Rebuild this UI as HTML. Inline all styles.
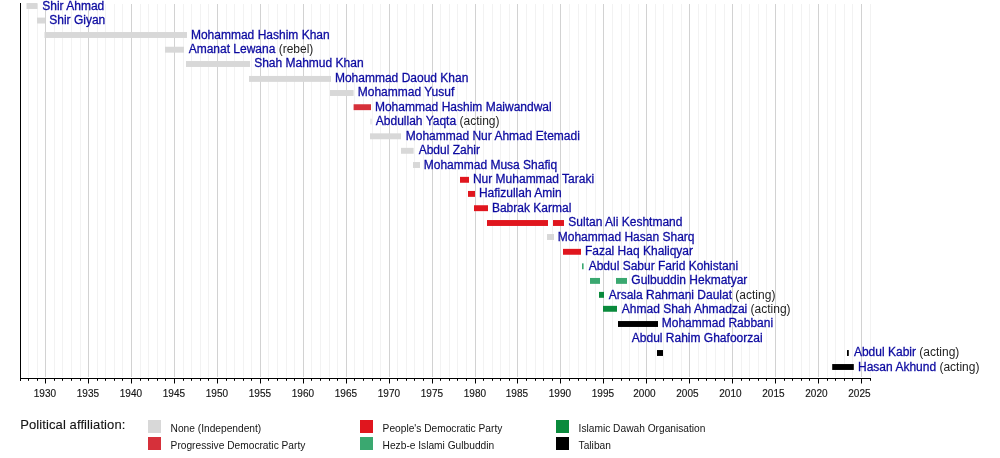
<!DOCTYPE html>
<html><head><meta charset="utf-8"><style>
html,body{margin:0;padding:0;background:#fff;width:1000px;height:458px;overflow:hidden}
svg{display:block;will-change:transform}
text{font-family:"Liberation Sans",sans-serif;font-variant-ligatures:none}
.l{font-size:12px;fill:#0c0aa0;stroke:#0c0aa0;stroke-width:0.28px}
.y{font-size:10px;fill:#151515;stroke:#151515;stroke-width:0.15px}
.lg{font-size:13px;fill:#151515;stroke:#151515;stroke-width:0.12px;letter-spacing:0.1px}
.lt{font-size:10.2px;fill:#151515}
.ac{font-size:12px;fill:#1e1e1e;stroke:none}
</style></head><body>
<svg width="1000" height="458" viewBox="0 0 1000 458">
<rect x="28" y="4" width="1" height="373" fill="#f2f2f2"/>
<rect x="37" y="4" width="1" height="373" fill="#f2f2f2"/>
<rect x="45" y="4" width="1" height="373" fill="#d2d2d2"/>
<rect x="54" y="4" width="1" height="373" fill="#f2f2f2"/>
<rect x="62" y="4" width="1" height="373" fill="#f2f2f2"/>
<rect x="71" y="4" width="1" height="373" fill="#f2f2f2"/>
<rect x="80" y="4" width="1" height="373" fill="#f2f2f2"/>
<rect x="88" y="4" width="1" height="373" fill="#d2d2d2"/>
<rect x="97" y="4" width="1" height="373" fill="#f2f2f2"/>
<rect x="105" y="4" width="1" height="373" fill="#f2f2f2"/>
<rect x="114" y="4" width="1" height="373" fill="#f2f2f2"/>
<rect x="122" y="4" width="1" height="373" fill="#f2f2f2"/>
<rect x="131" y="4" width="1" height="373" fill="#d2d2d2"/>
<rect x="140" y="4" width="1" height="373" fill="#f2f2f2"/>
<rect x="148" y="4" width="1" height="373" fill="#f2f2f2"/>
<rect x="157" y="4" width="1" height="373" fill="#f2f2f2"/>
<rect x="165" y="4" width="1" height="373" fill="#f2f2f2"/>
<rect x="174" y="4" width="1" height="373" fill="#d2d2d2"/>
<rect x="183" y="4" width="1" height="373" fill="#f2f2f2"/>
<rect x="191" y="4" width="1" height="373" fill="#f2f2f2"/>
<rect x="200" y="4" width="1" height="373" fill="#f2f2f2"/>
<rect x="208" y="4" width="1" height="373" fill="#f2f2f2"/>
<rect x="217" y="4" width="1" height="373" fill="#d2d2d2"/>
<rect x="226" y="4" width="1" height="373" fill="#f2f2f2"/>
<rect x="234" y="4" width="1" height="373" fill="#f2f2f2"/>
<rect x="243" y="4" width="1" height="373" fill="#f2f2f2"/>
<rect x="251" y="4" width="1" height="373" fill="#f2f2f2"/>
<rect x="260" y="4" width="1" height="373" fill="#d2d2d2"/>
<rect x="268" y="4" width="1" height="373" fill="#f2f2f2"/>
<rect x="277" y="4" width="1" height="373" fill="#f2f2f2"/>
<rect x="286" y="4" width="1" height="373" fill="#f2f2f2"/>
<rect x="294" y="4" width="1" height="373" fill="#f2f2f2"/>
<rect x="303" y="4" width="1" height="373" fill="#d2d2d2"/>
<rect x="311" y="4" width="1" height="373" fill="#f2f2f2"/>
<rect x="320" y="4" width="1" height="373" fill="#f2f2f2"/>
<rect x="329" y="4" width="1" height="373" fill="#f2f2f2"/>
<rect x="337" y="4" width="1" height="373" fill="#f2f2f2"/>
<rect x="346" y="4" width="1" height="373" fill="#d2d2d2"/>
<rect x="354" y="4" width="1" height="373" fill="#f2f2f2"/>
<rect x="363" y="4" width="1" height="373" fill="#f2f2f2"/>
<rect x="372" y="4" width="1" height="373" fill="#f2f2f2"/>
<rect x="380" y="4" width="1" height="373" fill="#f2f2f2"/>
<rect x="389" y="4" width="1" height="373" fill="#d2d2d2"/>
<rect x="397" y="4" width="1" height="373" fill="#f2f2f2"/>
<rect x="406" y="4" width="1" height="373" fill="#f2f2f2"/>
<rect x="414" y="4" width="1" height="373" fill="#f2f2f2"/>
<rect x="423" y="4" width="1" height="373" fill="#f2f2f2"/>
<rect x="432" y="4" width="1" height="373" fill="#d2d2d2"/>
<rect x="440" y="4" width="1" height="373" fill="#f2f2f2"/>
<rect x="449" y="4" width="1" height="373" fill="#f2f2f2"/>
<rect x="457" y="4" width="1" height="373" fill="#f2f2f2"/>
<rect x="466" y="4" width="1" height="373" fill="#f2f2f2"/>
<rect x="475" y="4" width="1" height="373" fill="#d2d2d2"/>
<rect x="483" y="4" width="1" height="373" fill="#f2f2f2"/>
<rect x="492" y="4" width="1" height="373" fill="#f2f2f2"/>
<rect x="500" y="4" width="1" height="373" fill="#f2f2f2"/>
<rect x="509" y="4" width="1" height="373" fill="#f2f2f2"/>
<rect x="517" y="4" width="1" height="373" fill="#d2d2d2"/>
<rect x="526" y="4" width="1" height="373" fill="#f2f2f2"/>
<rect x="535" y="4" width="1" height="373" fill="#f2f2f2"/>
<rect x="543" y="4" width="1" height="373" fill="#f2f2f2"/>
<rect x="552" y="4" width="1" height="373" fill="#f2f2f2"/>
<rect x="560" y="4" width="1" height="373" fill="#d2d2d2"/>
<rect x="569" y="4" width="1" height="373" fill="#f2f2f2"/>
<rect x="578" y="4" width="1" height="373" fill="#f2f2f2"/>
<rect x="586" y="4" width="1" height="373" fill="#f2f2f2"/>
<rect x="595" y="4" width="1" height="373" fill="#f2f2f2"/>
<rect x="603" y="4" width="1" height="373" fill="#d2d2d2"/>
<rect x="612" y="4" width="1" height="373" fill="#f2f2f2"/>
<rect x="621" y="4" width="1" height="373" fill="#f2f2f2"/>
<rect x="629" y="4" width="1" height="373" fill="#f2f2f2"/>
<rect x="638" y="4" width="1" height="373" fill="#f2f2f2"/>
<rect x="646" y="4" width="1" height="373" fill="#d2d2d2"/>
<rect x="655" y="4" width="1" height="373" fill="#f2f2f2"/>
<rect x="663" y="4" width="1" height="373" fill="#f2f2f2"/>
<rect x="672" y="4" width="1" height="373" fill="#f2f2f2"/>
<rect x="681" y="4" width="1" height="373" fill="#f2f2f2"/>
<rect x="689" y="4" width="1" height="373" fill="#d2d2d2"/>
<rect x="698" y="4" width="1" height="373" fill="#f2f2f2"/>
<rect x="706" y="4" width="1" height="373" fill="#f2f2f2"/>
<rect x="715" y="4" width="1" height="373" fill="#f2f2f2"/>
<rect x="724" y="4" width="1" height="373" fill="#f2f2f2"/>
<rect x="732" y="4" width="1" height="373" fill="#d2d2d2"/>
<rect x="741" y="4" width="1" height="373" fill="#f2f2f2"/>
<rect x="749" y="4" width="1" height="373" fill="#f2f2f2"/>
<rect x="758" y="4" width="1" height="373" fill="#f2f2f2"/>
<rect x="766" y="4" width="1" height="373" fill="#f2f2f2"/>
<rect x="775" y="4" width="1" height="373" fill="#d2d2d2"/>
<rect x="784" y="4" width="1" height="373" fill="#f2f2f2"/>
<rect x="792" y="4" width="1" height="373" fill="#f2f2f2"/>
<rect x="801" y="4" width="1" height="373" fill="#f2f2f2"/>
<rect x="809" y="4" width="1" height="373" fill="#f2f2f2"/>
<rect x="818" y="4" width="1" height="373" fill="#d2d2d2"/>
<rect x="827" y="4" width="1" height="373" fill="#f2f2f2"/>
<rect x="835" y="4" width="1" height="373" fill="#f2f2f2"/>
<rect x="844" y="4" width="1" height="373" fill="#f2f2f2"/>
<rect x="852" y="4" width="1" height="373" fill="#f2f2f2"/>
<rect x="861" y="4" width="1" height="373" fill="#d2d2d2"/>
<rect x="870" y="4" width="1" height="373" fill="#f2f2f2"/>
<rect x="26.5" y="3.05" width="11.00" height="5.9" fill="#d8d8d8"/>
<text x="42.26" y="9.70" class="l">Shir Ahmad</text>
<rect x="37" y="17.60" width="8.00" height="5.9" fill="#d8d8d8"/>
<text x="49.26" y="24.14" class="l">Shir Giyan</text>
<rect x="44.5" y="32.05" width="142.50" height="5.9" fill="#d8d8d8"/>
<text x="190.94" y="38.58" class="l">Mohammad Hashim Khan</text>
<rect x="165" y="46.75" width="19.00" height="5.9" fill="#d8d8d8"/>
<text x="188.64" y="53.02" class="l">Amanat Lewana<tspan class="ac"> (rebel)</tspan></text>
<rect x="186" y="61.05" width="64.00" height="5.9" fill="#d8d8d8"/>
<text x="254.16" y="67.46" class="l">Shah Mahmud Khan</text>
<rect x="249" y="75.95" width="82.00" height="5.9" fill="#d8d8d8"/>
<text x="334.94" y="81.90" class="l">Mohammad Daoud Khan</text>
<rect x="330" y="90.05" width="23.60" height="5.9" fill="#d8d8d8"/>
<text x="357.74" y="96.34" class="l">Mohammad Yusuf</text>
<rect x="353.6" y="104.25" width="17.40" height="5.9" fill="#d6303a"/>
<text x="374.94" y="110.78" class="l">Mohammad Hashim Maiwandwal</text>
<rect x="370.5" y="118.57" width="1.00" height="5.9" fill="#d8d8d8"/>
<text x="375.84" y="125.22" class="l">Abdullah Yaqta<tspan class="ac"> (acting)</tspan></text>
<rect x="370" y="133.35" width="31.00" height="5.9" fill="#d8d8d8"/>
<text x="405.74" y="139.66" class="l">Mohammad Nur Ahmad Etemadi</text>
<rect x="401" y="147.85" width="12.60" height="5.9" fill="#d8d8d8"/>
<text x="418.64" y="154.10" class="l">Abdul Zahir</text>
<rect x="413" y="162.05" width="7.00" height="5.9" fill="#d8d8d8"/>
<text x="423.74" y="168.54" class="l">Mohammad Musa Shafiq</text>
<rect x="460" y="176.85" width="9.00" height="5.9" fill="#e0161e"/>
<text x="472.94" y="182.98" class="l">Nur Muhammad Taraki</text>
<rect x="468" y="190.95" width="7.00" height="5.9" fill="#e0161e"/>
<text x="478.94" y="197.42" class="l">Hafizullah Amin</text>
<rect x="474" y="205.25" width="14.00" height="5.9" fill="#e0161e"/>
<text x="491.94" y="211.86" class="l">Babrak Karmal</text>
<rect x="487" y="220.05" width="61.00" height="5.9" fill="#e0161e"/>
<rect x="553" y="220.05" width="11.00" height="5.9" fill="#e0161e"/>
<text x="568.36" y="226.30" class="l">Sultan Ali Keshtmand</text>
<rect x="547" y="234.05" width="7.00" height="5.9" fill="#d8d8d8"/>
<text x="557.74" y="240.74" class="l">Mohammad Hasan Sharq</text>
<rect x="563" y="248.85" width="18.00" height="5.9" fill="#e0161e"/>
<text x="584.94" y="255.18" class="l">Fazal Haq Khaliqyar</text>
<rect x="582" y="263.35" width="1.60" height="5.9" fill="#3aa870"/>
<text x="588.64" y="269.62" class="l">Abdul Sabur Farid Kohistani</text>
<rect x="590" y="277.95" width="10.00" height="5.9" fill="#3aa870"/>
<rect x="616" y="277.95" width="11.00" height="5.9" fill="#3aa870"/>
<text x="631.30" y="284.06" class="l">Gulbuddin Hekmatyar</text>
<rect x="599" y="291.90" width="5.00" height="5.9" fill="#0a8a3c"/>
<text x="608.64" y="298.50" class="l">Arsala Rahmani Daulat<tspan class="ac"> (acting)</tspan></text>
<rect x="603" y="305.85" width="14.00" height="5.9" fill="#0a8a3c"/>
<text x="621.84" y="312.94" class="l">Ahmad Shah Ahmadzai<tspan class="ac"> (acting)</tspan></text>
<rect x="618" y="321.05" width="40.00" height="5.9" fill="#000000"/>
<text x="661.74" y="327.38" class="l">Mohammad Rabbani</text>
<text x="631.84" y="341.82" class="l">Abdul Rahim Ghafoorzai</text>
<rect x="657" y="350.05" width="6.00" height="5.9" fill="#000000"/>
<rect x="847" y="350.05" width="1.80" height="5.9" fill="#000000"/>
<text x="853.94" y="356.26" class="l">Abdul Kabir<tspan class="ac"> (acting)</tspan></text>
<rect x="832.2" y="364.05" width="21.60" height="5.9" fill="#000000"/>
<text x="858.04" y="370.70" class="l">Hasan Akhund<tspan class="ac"> (acting)</tspan></text>
<rect x="20" y="3" width="1" height="378" fill="#000"/>
<rect x="20" y="378" width="851" height="1" fill="#000"/>
<rect x="20" y="378" width="1" height="2.8" fill="#000"/>
<rect x="28" y="378" width="1" height="2.8" fill="#000"/>
<rect x="37" y="378" width="1" height="2.8" fill="#000"/>
<rect x="45" y="378" width="1" height="5.5" fill="#000"/>
<text x="44.90" y="396.6" class="y" text-anchor="middle">1930</text>
<rect x="54" y="378" width="1" height="2.8" fill="#000"/>
<rect x="62" y="378" width="1" height="2.8" fill="#000"/>
<rect x="71" y="378" width="1" height="2.8" fill="#000"/>
<rect x="80" y="378" width="1" height="2.8" fill="#000"/>
<rect x="88" y="378" width="1" height="5.5" fill="#000"/>
<text x="87.90" y="396.6" class="y" text-anchor="middle">1935</text>
<rect x="97" y="378" width="1" height="2.8" fill="#000"/>
<rect x="105" y="378" width="1" height="2.8" fill="#000"/>
<rect x="114" y="378" width="1" height="2.8" fill="#000"/>
<rect x="122" y="378" width="1" height="2.8" fill="#000"/>
<rect x="131" y="378" width="1" height="5.5" fill="#000"/>
<text x="130.90" y="396.6" class="y" text-anchor="middle">1940</text>
<rect x="140" y="378" width="1" height="2.8" fill="#000"/>
<rect x="148" y="378" width="1" height="2.8" fill="#000"/>
<rect x="157" y="378" width="1" height="2.8" fill="#000"/>
<rect x="165" y="378" width="1" height="2.8" fill="#000"/>
<rect x="174" y="378" width="1" height="5.5" fill="#000"/>
<text x="173.90" y="396.6" class="y" text-anchor="middle">1945</text>
<rect x="183" y="378" width="1" height="2.8" fill="#000"/>
<rect x="191" y="378" width="1" height="2.8" fill="#000"/>
<rect x="200" y="378" width="1" height="2.8" fill="#000"/>
<rect x="208" y="378" width="1" height="2.8" fill="#000"/>
<rect x="217" y="378" width="1" height="5.5" fill="#000"/>
<text x="216.90" y="396.6" class="y" text-anchor="middle">1950</text>
<rect x="226" y="378" width="1" height="2.8" fill="#000"/>
<rect x="234" y="378" width="1" height="2.8" fill="#000"/>
<rect x="243" y="378" width="1" height="2.8" fill="#000"/>
<rect x="251" y="378" width="1" height="2.8" fill="#000"/>
<rect x="260" y="378" width="1" height="5.5" fill="#000"/>
<text x="259.90" y="396.6" class="y" text-anchor="middle">1955</text>
<rect x="268" y="378" width="1" height="2.8" fill="#000"/>
<rect x="277" y="378" width="1" height="2.8" fill="#000"/>
<rect x="286" y="378" width="1" height="2.8" fill="#000"/>
<rect x="294" y="378" width="1" height="2.8" fill="#000"/>
<rect x="303" y="378" width="1" height="5.5" fill="#000"/>
<text x="302.90" y="396.6" class="y" text-anchor="middle">1960</text>
<rect x="311" y="378" width="1" height="2.8" fill="#000"/>
<rect x="320" y="378" width="1" height="2.8" fill="#000"/>
<rect x="329" y="378" width="1" height="2.8" fill="#000"/>
<rect x="337" y="378" width="1" height="2.8" fill="#000"/>
<rect x="346" y="378" width="1" height="5.5" fill="#000"/>
<text x="345.90" y="396.6" class="y" text-anchor="middle">1965</text>
<rect x="354" y="378" width="1" height="2.8" fill="#000"/>
<rect x="363" y="378" width="1" height="2.8" fill="#000"/>
<rect x="372" y="378" width="1" height="2.8" fill="#000"/>
<rect x="380" y="378" width="1" height="2.8" fill="#000"/>
<rect x="389" y="378" width="1" height="5.5" fill="#000"/>
<text x="388.90" y="396.6" class="y" text-anchor="middle">1970</text>
<rect x="397" y="378" width="1" height="2.8" fill="#000"/>
<rect x="406" y="378" width="1" height="2.8" fill="#000"/>
<rect x="414" y="378" width="1" height="2.8" fill="#000"/>
<rect x="423" y="378" width="1" height="2.8" fill="#000"/>
<rect x="432" y="378" width="1" height="5.5" fill="#000"/>
<text x="431.90" y="396.6" class="y" text-anchor="middle">1975</text>
<rect x="440" y="378" width="1" height="2.8" fill="#000"/>
<rect x="449" y="378" width="1" height="2.8" fill="#000"/>
<rect x="457" y="378" width="1" height="2.8" fill="#000"/>
<rect x="466" y="378" width="1" height="2.8" fill="#000"/>
<rect x="475" y="378" width="1" height="5.5" fill="#000"/>
<text x="474.90" y="396.6" class="y" text-anchor="middle">1980</text>
<rect x="483" y="378" width="1" height="2.8" fill="#000"/>
<rect x="492" y="378" width="1" height="2.8" fill="#000"/>
<rect x="500" y="378" width="1" height="2.8" fill="#000"/>
<rect x="509" y="378" width="1" height="2.8" fill="#000"/>
<rect x="517" y="378" width="1" height="5.5" fill="#000"/>
<text x="516.90" y="396.6" class="y" text-anchor="middle">1985</text>
<rect x="526" y="378" width="1" height="2.8" fill="#000"/>
<rect x="535" y="378" width="1" height="2.8" fill="#000"/>
<rect x="543" y="378" width="1" height="2.8" fill="#000"/>
<rect x="552" y="378" width="1" height="2.8" fill="#000"/>
<rect x="560" y="378" width="1" height="5.5" fill="#000"/>
<text x="559.90" y="396.6" class="y" text-anchor="middle">1990</text>
<rect x="569" y="378" width="1" height="2.8" fill="#000"/>
<rect x="578" y="378" width="1" height="2.8" fill="#000"/>
<rect x="586" y="378" width="1" height="2.8" fill="#000"/>
<rect x="595" y="378" width="1" height="2.8" fill="#000"/>
<rect x="603" y="378" width="1" height="5.5" fill="#000"/>
<text x="602.90" y="396.6" class="y" text-anchor="middle">1995</text>
<rect x="612" y="378" width="1" height="2.8" fill="#000"/>
<rect x="621" y="378" width="1" height="2.8" fill="#000"/>
<rect x="629" y="378" width="1" height="2.8" fill="#000"/>
<rect x="638" y="378" width="1" height="2.8" fill="#000"/>
<rect x="646" y="378" width="1" height="5.5" fill="#000"/>
<text x="644.40" y="396.6" class="y" text-anchor="middle">2000</text>
<rect x="655" y="378" width="1" height="2.8" fill="#000"/>
<rect x="663" y="378" width="1" height="2.8" fill="#000"/>
<rect x="672" y="378" width="1" height="2.8" fill="#000"/>
<rect x="681" y="378" width="1" height="2.8" fill="#000"/>
<rect x="689" y="378" width="1" height="5.5" fill="#000"/>
<text x="687.40" y="396.6" class="y" text-anchor="middle">2005</text>
<rect x="698" y="378" width="1" height="2.8" fill="#000"/>
<rect x="706" y="378" width="1" height="2.8" fill="#000"/>
<rect x="715" y="378" width="1" height="2.8" fill="#000"/>
<rect x="724" y="378" width="1" height="2.8" fill="#000"/>
<rect x="732" y="378" width="1" height="5.5" fill="#000"/>
<text x="730.40" y="396.6" class="y" text-anchor="middle">2010</text>
<rect x="741" y="378" width="1" height="2.8" fill="#000"/>
<rect x="749" y="378" width="1" height="2.8" fill="#000"/>
<rect x="758" y="378" width="1" height="2.8" fill="#000"/>
<rect x="766" y="378" width="1" height="2.8" fill="#000"/>
<rect x="775" y="378" width="1" height="5.5" fill="#000"/>
<text x="773.40" y="396.6" class="y" text-anchor="middle">2015</text>
<rect x="784" y="378" width="1" height="2.8" fill="#000"/>
<rect x="792" y="378" width="1" height="2.8" fill="#000"/>
<rect x="801" y="378" width="1" height="2.8" fill="#000"/>
<rect x="809" y="378" width="1" height="2.8" fill="#000"/>
<rect x="818" y="378" width="1" height="5.5" fill="#000"/>
<text x="816.40" y="396.6" class="y" text-anchor="middle">2020</text>
<rect x="827" y="378" width="1" height="2.8" fill="#000"/>
<rect x="835" y="378" width="1" height="2.8" fill="#000"/>
<rect x="844" y="378" width="1" height="2.8" fill="#000"/>
<rect x="852" y="378" width="1" height="2.8" fill="#000"/>
<rect x="861" y="378" width="1" height="5.5" fill="#000"/>
<text x="859.40" y="396.6" class="y" text-anchor="middle">2025</text>
<rect x="870" y="378" width="1" height="2.8" fill="#000"/>
<text x="20.2" y="428.9" class="lg">Political affiliation:</text>
<rect x="148" y="420" width="13" height="13" fill="#d8d8d8"/>
<text x="170.60" y="431.60" class="lt">None (Independent)</text>
<rect x="148" y="437" width="13" height="13" fill="#d6303a"/>
<text x="170.60" y="448.60" class="lt">Progressive Democratic Party</text>
<rect x="360" y="420" width="13" height="13" fill="#e0161e"/>
<text x="382.60" y="431.60" class="lt">People's Democratic Party</text>
<rect x="360" y="437" width="13" height="13" fill="#3aa870"/>
<text x="382.60" y="448.60" class="lt">Hezb-e Islami Gulbuddin</text>
<rect x="556" y="420" width="13" height="13" fill="#0a8a3c"/>
<text x="578.60" y="431.60" class="lt">Islamic Dawah Organisation</text>
<rect x="556" y="437" width="13" height="13" fill="#000000"/>
<text x="578.60" y="448.60" class="lt">Taliban</text>
</svg>
</body></html>
